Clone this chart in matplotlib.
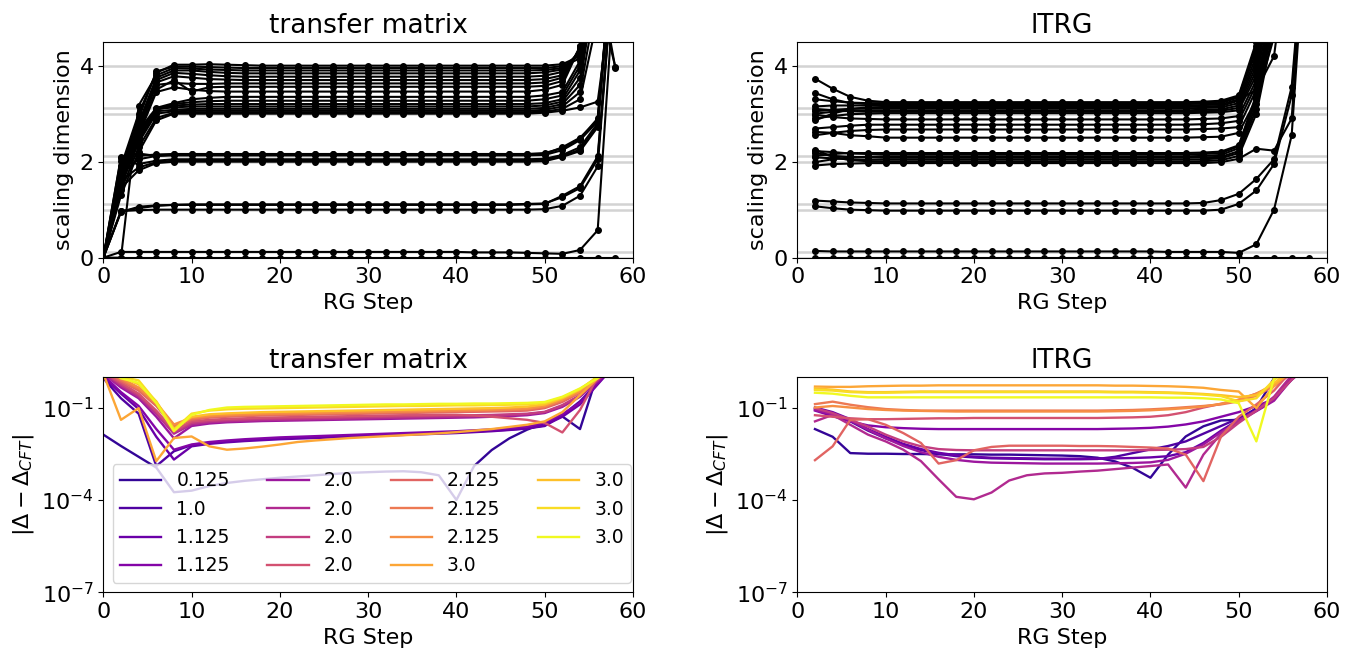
import numpy as np
import matplotlib
matplotlib.use('Agg')
import matplotlib.pyplot as plt
from matplotlib.ticker import NullLocator

plt.rcParams['font.family'] = ['DejaVu Sans']
plt.rcParams['font.size'] = 16

# RG steps
tm_steps = np.arange(0, 60, 2)     # 0 .. 58
ltrg_steps = np.arange(2, 60, 2)   # 2 .. 58

cft_levels = [0.0, 0.125, 1.0, 1.125, 2.0, 2.125, 3.0, 3.125, 4.0]
err_labels = ['0.125', '1.0', '1.125', '1.125', '2.0', '2.0', '2.0', '2.0',
              '2.125', '2.125', '2.125', '3.0', '3.0', '3.0', '3.0']

# ---------------- transfer matrix: scaling dimensions ----------------
tm_dims_low = [
    [0,0,0,0,0, 0,0,0,0,0,0,0,0,0,0,0,0,0,0,0,0,0,0,0,0, 0,0,0,0,0],
    [0,.12,.12,.12,.12, .12,.12,.12,.12,.12,.12,.12,.12,.12,.12,.12,.12,.12,.12,.12,.12,.11,.11,.11,.10, .09,.08,.16,.57,6.0],
    [0,.97,.99,1.0,1.0, 1.0,1.0,1.0,1.0,1.0,1.0,1.0,1.0,1.0,1.0,1.0,1.0,1.0,1.0,1.0,1.0,1.0,1.0,1.0,1.0, 1.01,1.08,1.29,1.90,6.5],
    [0,.95,1.06,1.09,1.10, 1.10,1.10,1.10,1.10,1.10,1.10,1.10,1.10,1.10,1.10,1.10,1.10,1.10,1.10,1.10,1.10,1.10,1.10,1.10,1.11, 1.12,1.29,1.49,2.11,6.5],
    [0,.97,1.03,1.08,1.10, 1.11,1.11,1.11,1.11,1.11,1.11,1.11,1.11,1.11,1.11,1.11,1.11,1.11,1.11,1.11,1.11,1.11,1.11,1.11,1.12, 1.13,1.26,1.45,2.05,6.5],
]
tm_dims_two = [
    [0,1.45,1.82,1.97,2.00, 2.00,2.00,2.00,2.00,2.00,2.00,2.00,2.00,2.00,2.00,2.00,2.00,2.00,2.00,2.00,2.00,2.00,2.00,2.00,2.00, 2.01,2.10,2.22,2.72,7.0],
    [0,1.60,1.88,1.99,2.02, 2.03,2.03,2.03,2.03,2.03,2.03,2.03,2.03,2.03,2.03,2.03,2.03,2.03,2.03,2.03,2.03,2.03,2.03,2.03,2.03, 2.04,2.12,2.25,2.75,7.0],
    [0,2.01,1.95,2.02,2.05, 2.05,2.05,2.05,2.05,2.05,2.05,2.05,2.05,2.05,2.05,2.05,2.05,2.05,2.05,2.05,2.05,2.05,2.05,2.05,2.05, 2.06,2.14,2.30,2.80,7.0],
    [0,2.10,2.17,2.12,2.13, 2.13,2.13,2.13,2.13,2.13,2.13,2.13,2.13,2.13,2.13,2.13,2.13,2.13,2.13,2.13,2.13,2.13,2.13,2.13,2.13, 2.14,2.24,2.45,2.84,7.0],
    [0,1.75,2.05,2.12,2.15, 2.15,2.15,2.15,2.15,2.15,2.15,2.15,2.15,2.15,2.15,2.15,2.15,2.15,2.15,2.15,2.15,2.15,2.15,2.15,2.15, 2.16,2.30,2.50,2.86,7.0],
    [0,2.08,2.12,2.15,2.16, 2.16,2.16,2.16,2.16,2.16,2.16,2.16,2.16,2.16,2.16,2.16,2.16,2.16,2.16,2.16,2.16,2.16,2.16,2.16,2.16, 2.18,2.28,2.48,2.90,7.0],
]
tm_dims_three = [
    [0,1.30,2.20,2.86,3.00, 3.00,3.00,3.00,3.00,3.00,3.00,3.00,3.00,3.00,3.00,3.00,3.00,3.00,3.00,3.00,3.00,3.00,3.00,3.00,3.00, 3.02,3.06,3.13,3.25,6.0],
    [0,1.40,2.30,2.91,3.02, 3.03,3.03,3.03,3.03,3.03,3.03,3.03,3.03,3.03,3.03,3.03,3.03,3.03,3.03,3.03,3.03,3.03,3.03,3.03,3.03, 3.04,3.10,3.30,5.0,7.0],
    [0,1.50,2.40,3.00,3.05, 3.06,3.06,3.06,3.06,3.06,3.06,3.06,3.06,3.06,3.06,3.06,3.06,3.06,3.06,3.06,3.06,3.06,3.06,3.06,3.06, 3.08,3.15,3.45,5.5,3.97],
    [0,1.55,2.45,3.05,3.08, 3.10,3.10,3.10,3.10,3.10,3.10,3.10,3.10,3.10,3.10,3.10,3.10,3.10,3.10,3.10,3.10,3.10,3.10,3.10,3.10, 3.12,3.20,3.60,6.0,7.0],
    [0,1.60,2.50,3.10,3.13, 3.15,3.15,3.15,3.15,3.15,3.15,3.15,3.15,3.15,3.15,3.15,3.15,3.15,3.15,3.15,3.15,3.15,3.15,3.15,3.15, 3.17,3.25,3.75,6.0,3.95],
    [0,1.65,2.55,3.08,3.17, 3.19,3.20,3.20,3.20,3.20,3.20,3.20,3.20,3.20,3.20,3.20,3.20,3.20,3.20,3.20,3.20,3.20,3.20,3.20,3.20, 3.22,3.30,3.90,6.0,7.0],
    [0,1.70,2.60,3.10,3.20, 3.24,3.26,3.27,3.27,3.27,3.27,3.27,3.27,3.27,3.27,3.27,3.27,3.27,3.27,3.27,3.27,3.27,3.27,3.27,3.27, 3.30,3.38,4.00,6.5,7.0],
    [0,1.75,2.65,3.12,3.22, 3.30,3.33,3.35,3.35,3.35,3.35,3.35,3.35,3.35,3.35,3.35,3.35,3.35,3.35,3.35,3.35,3.35,3.35,3.35,3.35, 3.38,3.45,4.10,6.5,7.0],
]
tm_dims_upper = [
    [0,1.90,3.00,3.85,4.02, 4.02,4.03,4.02,4.01,4.00,4.00,4.00,4.00,4.00,4.00,4.00,4.00,4.00,4.00,4.00,4.00,4.00,4.00,4.00,4.00, 4.00,4.03,4.20,6.0,7.0],
    [0,1.85,2.90,3.88,3.98, 3.98,3.97,3.96,3.95,3.95,3.95,3.95,3.95,3.95,3.95,3.95,3.95,3.95,3.95,3.95,3.95,3.95,3.95,3.95,3.95, 3.95,3.99,4.15,6.0,7.0],
    [0,0.00,3.17,3.80,3.95, 3.94,3.92,3.91,3.90,3.90,3.90,3.90,3.90,3.90,3.90,3.90,3.90,3.90,3.90,3.90,3.90,3.90,3.90,3.90,3.90, 3.91,3.95,4.25,6.0,7.0],
    [0,1.80,2.80,3.75,3.90, 3.90,3.87,3.85,3.84,3.84,3.84,3.84,3.84,3.84,3.84,3.84,3.84,3.84,3.84,3.84,3.84,3.84,3.84,3.84,3.84, 3.86,3.92,4.30,6.5,7.0],
    [0,1.75,2.75,3.70,3.85, 3.83,3.80,3.78,3.77,3.77,3.77,3.77,3.77,3.77,3.77,3.77,3.77,3.77,3.77,3.77,3.77,3.77,3.77,3.77,3.77, 3.79,3.87,4.30,6.5,7.0],
    [0,1.70,2.70,3.65,3.78, 3.75,3.72,3.71,3.70,3.70,3.70,3.70,3.70,3.70,3.70,3.70,3.70,3.70,3.70,3.70,3.70,3.70,3.70,3.70,3.70, 3.72,3.80,4.35,6.5,7.0],
    [0,1.70,2.65,3.60,3.64, 3.62,3.62,3.63,3.63,3.63,3.63,3.63,3.63,3.63,3.63,3.63,3.63,3.63,3.63,3.63,3.63,3.63,3.63,3.63,3.63, 3.65,3.75,4.35,6.5,7.0],
    [0,1.65,2.60,3.50,3.70, 3.46,3.55,3.56,3.56,3.56,3.56,3.56,3.56,3.56,3.56,3.56,3.56,3.56,3.56,3.56,3.56,3.56,3.56,3.56,3.56, 3.58,3.68,4.40,7.0,7.0],
    [0,1.60,2.55,3.45,3.55, 3.50,3.47,3.46,3.46,3.46,3.46,3.46,3.46,3.46,3.46,3.46,3.46,3.46,3.46,3.46,3.46,3.46,3.46,3.46,3.46, 3.50,3.60,4.40,7.0,7.0],
]

# ---------------- lTRG: scaling dimensions ----------------
ltrg_dims_low = [
    [0,0,0,0, 0,0,0,0,0,0,0,0,0,0,0,0,0,0,0,0,0,0,0, 0,0,0,0,0,0],
    [.14,.13,.13,.13, .13,.13,.13,.13,.13,.13,.13,.13,.13,.13,.13,.13,.13,.13,.13,.13,.12,.12,.12, .12,.10,.28,1.00,2.55,8.0],
    [1.07,1.03,1.00,.99, .98,.98,.98,.98,.98,.98,.98,.98,.98,.98,.98,.98,.98,.98,.98,.98,.98,.98,.98, 1.00,1.12,1.40,1.95,3.38,8.0],
    [1.19,1.17,1.15,1.14, 1.13,1.13,1.13,1.13,1.13,1.13,1.13,1.13,1.13,1.13,1.13,1.13,1.13,1.13,1.13,1.13,1.13,1.13,1.14, 1.20,1.33,1.64,2.05,3.56,8.0],
]
ltrg_dims_two = [
    [1.92,1.95,1.96,1.97, 1.97,1.97,1.97,1.97,1.97,1.97,1.97,1.97,1.97,1.97,1.97,1.97,1.97,1.97,1.97,1.97,1.97,1.97,1.97, 1.99,2.06,2.27,2.23,2.90,8.0],
    [2.25,2.10,2.03,2.01, 2.00,2.00,2.00,2.00,2.00,2.00,2.00,2.00,2.00,2.00,2.00,2.00,2.00,2.00,2.00,2.00,2.00,2.00,2.01, 2.03,2.12,3.00,4.80,7.0,8.0],
    [2.09,2.07,2.05,2.04, 2.04,2.04,2.04,2.04,2.04,2.04,2.04,2.04,2.04,2.04,2.04,2.04,2.04,2.04,2.04,2.04,2.04,2.04,2.05, 2.07,2.18,3.10,5.00,7.0,8.0],
    [2.18,2.12,2.10,2.09, 2.08,2.08,2.08,2.08,2.08,2.08,2.08,2.08,2.08,2.08,2.08,2.08,2.08,2.08,2.08,2.08,2.08,2.08,2.09, 2.10,2.22,3.20,5.20,7.0,8.0],
    [1.99,2.05,2.09,2.10, 2.11,2.11,2.11,2.11,2.11,2.11,2.11,2.11,2.11,2.11,2.11,2.11,2.11,2.11,2.11,2.11,2.11,2.11,2.12, 2.14,2.28,3.30,5.40,7.0,8.0],
    [2.22,2.20,2.17,2.16, 2.15,2.15,2.15,2.15,2.15,2.15,2.15,2.15,2.15,2.15,2.15,2.15,2.15,2.15,2.15,2.15,2.15,2.15,2.16, 2.18,2.32,3.35,5.50,7.0,8.0],
    [2.12,2.16,2.18,2.18, 2.18,2.18,2.18,2.18,2.18,2.18,2.18,2.18,2.18,2.18,2.18,2.18,2.18,2.18,2.18,2.18,2.18,2.18,2.19, 2.21,2.34,3.40,5.60,7.0,8.0],
]
ltrg_dims_three = [
    [2.62,2.60,2.55,2.53, 2.50,2.50,2.50,2.50,2.50,2.50,2.50,2.50,2.50,2.50,2.50,2.50,2.50,2.50,2.50,2.50,2.50,2.50,2.51, 2.52,2.60,3.30,4.60,7.0,8.0],
    [2.55,2.60,2.64,2.66, 2.67,2.67,2.67,2.67,2.67,2.67,2.67,2.67,2.67,2.67,2.67,2.67,2.67,2.67,2.67,2.67,2.67,2.67,2.68, 2.69,2.72,3.50,4.80,7.0,8.0],
    [2.69,2.72,2.75,2.77, 2.77,2.77,2.77,2.77,2.77,2.77,2.77,2.77,2.77,2.77,2.77,2.77,2.77,2.77,2.77,2.77,2.77,2.77,2.78, 2.80,2.85,3.60,5.00,7.0,8.0],
    [2.98,2.93,2.90,2.89, 2.88,2.88,2.88,2.88,2.88,2.88,2.88,2.88,2.88,2.88,2.88,2.88,2.88,2.88,2.88,2.88,2.88,2.88,2.89, 2.90,2.95,3.70,5.20,7.0,8.0],
    [2.90,2.95,2.99,3.00, 3.01,3.01,3.01,3.01,3.01,3.01,3.01,3.01,3.01,3.01,3.01,3.01,3.01,3.01,3.01,3.01,3.01,3.01,3.02, 3.03,3.07,3.80,5.40,7.0,8.0],
    [3.10,3.07,3.05,3.04, 3.04,3.04,3.04,3.04,3.04,3.04,3.04,3.04,3.04,3.04,3.04,3.04,3.04,3.04,3.04,3.04,3.04,3.04,3.05, 3.06,3.12,3.90,5.60,7.0,8.0],
    [3.00,3.04,3.06,3.07, 3.07,3.07,3.07,3.07,3.07,3.07,3.07,3.07,3.07,3.07,3.07,3.07,3.07,3.07,3.07,3.07,3.07,3.07,3.08, 3.09,3.17,4.00,5.80,7.0,8.0],
    [3.05,3.08,3.10,3.11, 3.11,3.11,3.11,3.11,3.11,3.11,3.11,3.11,3.11,3.11,3.11,3.11,3.11,3.11,3.11,3.11,3.11,3.11,3.12, 3.13,3.22,4.10,6.00,7.0,8.0],
    [2.86,3.00,3.10,3.13, 3.14,3.14,3.14,3.14,3.14,3.14,3.14,3.14,3.14,3.14,3.14,3.14,3.14,3.14,3.14,3.14,3.14,3.14,3.15, 3.16,3.27,4.20,6.00,7.0,8.0],
    [3.15,3.17,3.17,3.17, 3.17,3.17,3.17,3.17,3.17,3.17,3.17,3.17,3.17,3.17,3.17,3.17,3.17,3.17,3.17,3.17,3.17,3.17,3.18, 3.19,3.30,3.49,4.20,7.0,8.0],
    [3.43,3.30,3.22,3.20, 3.20,3.20,3.20,3.20,3.20,3.20,3.20,3.20,3.20,3.20,3.20,3.20,3.20,3.20,3.20,3.20,3.20,3.20,3.21, 3.22,3.34,4.30,6.50,7.0,8.0],
    [3.30,3.26,3.23,3.22, 3.22,3.22,3.22,3.22,3.22,3.22,3.22,3.22,3.22,3.22,3.22,3.22,3.22,3.22,3.22,3.22,3.22,3.22,3.23, 3.25,3.36,4.40,6.50,7.0,8.0],
    [3.73,3.52,3.35,3.27, 3.24,3.24,3.24,3.24,3.24,3.24,3.24,3.24,3.24,3.24,3.24,3.24,3.24,3.24,3.24,3.24,3.24,3.24,3.25, 3.27,3.38,4.50,6.50,7.0,8.0],
]

# ---------------- log10 |Delta - Delta_CFT|, transfer matrix ----------------
tm_err_log10 = [
    [-1.88,-2.25,-2.60,-2.95,-3.75,-3.70,-3.55,-3.45,-3.38,-3.33,-3.28,-3.24,-3.20,-3.16,-3.12,-3.10,-3.08,-3.07,-3.10,-3.20,-4.00,-2.90,-2.38,-2.00,-1.72,-1.50,-1.29,-1.70,0.10,0.50],
    [-0.05,-0.70,-1.20,-2.90,-2.42,-2.22,-2.15,-2.10,-2.06,-2.03,-2.00,-1.98,-1.96,-1.94,-1.92,-1.90,-1.88,-1.86,-1.84,-1.82,-1.80,-1.78,-1.75,-1.72,-1.68,-1.60,-1.25,-0.80,-0.20,0.40],
    [0.00,-0.55,-1.05,-1.95,-2.69,-2.26,-2.18,-2.13,-2.09,-2.06,-2.03,-2.01,-1.99,-1.97,-1.95,-1.93,-1.91,-1.89,-1.87,-1.85,-1.83,-1.80,-1.77,-1.73,-1.68,-1.58,-1.30,-0.90,-0.25,0.40],
    [0.05,-0.50,-0.95,-1.70,-2.37,-2.20,-2.12,-2.07,-2.03,-2.00,-1.97,-1.95,-1.93,-1.91,-1.89,-1.87,-1.85,-1.83,-1.81,-1.79,-1.77,-1.74,-1.71,-1.67,-1.62,-1.50,-1.22,-0.85,-0.22,0.40],
    [0.10,-0.35,-0.70,-1.30,-2.00,-1.60,-1.52,-1.48,-1.46,-1.44,-1.43,-1.42,-1.41,-1.40,-1.39,-1.38,-1.37,-1.36,-1.35,-1.34,-1.33,-1.32,-1.30,-1.28,-1.25,-1.18,-0.98,-0.65,-0.15,0.40],
    [0.10,-0.30,-0.65,-1.20,-1.85,-1.55,-1.48,-1.45,-1.43,-1.41,-1.40,-1.39,-1.38,-1.37,-1.36,-1.35,-1.34,-1.33,-1.32,-1.31,-1.30,-1.29,-1.27,-1.25,-1.22,-1.15,-0.95,-0.62,-0.12,0.40],
    [0.15,-0.25,-0.60,-1.15,-1.80,-1.50,-1.44,-1.41,-1.39,-1.37,-1.36,-1.35,-1.34,-1.33,-1.32,-1.31,-1.30,-1.29,-1.28,-1.27,-1.26,-1.25,-1.24,-1.22,-1.20,-1.14,-0.92,-0.60,-0.10,0.40],
    [0.15,-0.20,-0.55,-1.10,-1.75,-1.45,-1.40,-1.37,-1.35,-1.33,-1.32,-1.31,-1.30,-1.29,-1.28,-1.27,-1.26,-1.25,-1.25,-1.24,-1.24,-1.26,-1.30,-1.35,-1.40,-1.50,-1.81,-1.08,0.00,0.40],
    [0.20,-0.15,-0.45,-0.95,-1.65,-1.40,-1.33,-1.30,-1.28,-1.26,-1.25,-1.24,-1.23,-1.22,-1.21,-1.20,-1.19,-1.18,-1.17,-1.16,-1.15,-1.14,-1.13,-1.12,-1.10,-1.02,-0.82,-0.52,-0.05,0.40],
    [0.20,-0.10,-0.40,-0.90,-1.60,-1.36,-1.30,-1.27,-1.25,-1.23,-1.22,-1.21,-1.20,-1.19,-1.18,-1.17,-1.16,-1.15,-1.14,-1.13,-1.12,-1.11,-1.10,-1.08,-1.06,-0.98,-0.78,-0.50,-0.05,0.40],
    [0.20,-0.05,-0.35,-0.85,-1.55,-1.33,-1.27,-1.24,-1.22,-1.20,-1.19,-1.18,-1.17,-1.16,-1.15,-1.14,-1.13,-1.12,-1.11,-1.10,-1.09,-1.08,-1.07,-1.05,-1.03,-0.95,-0.75,-0.48,-0.02,0.40],
    [0.10,-1.40,-1.02,-2.74,-1.99,-1.94,-2.26,-2.37,-2.33,-2.27,-2.20,-2.12,-2.07,-2.03,-1.99,-1.96,-1.93,-1.90,-1.87,-1.84,-1.80,-1.75,-1.70,-1.63,-1.56,-1.45,-1.15,-0.60,-0.05,0.40],
    [0.25,0.00,-0.25,-0.80,-1.70,-1.30,-1.22,-1.19,-1.17,-1.15,-1.14,-1.13,-1.12,-1.11,-1.10,-1.09,-1.08,-1.07,-1.06,-1.05,-1.04,-1.03,-1.02,-1.00,-0.97,-0.90,-0.70,-0.42,0.00,0.40],
    [0.30,0.00,-0.12,-0.82,-1.72,-1.20,-1.10,-1.06,-1.04,-1.03,-1.02,-1.01,-1.00,-0.99,-0.98,-0.97,-0.96,-0.95,-0.95,-0.94,-0.93,-0.93,-0.92,-0.91,-0.90,-0.85,-0.67,-0.40,0.00,0.40],
    [0.30,-0.05,-0.20,-0.86,-1.77,-1.24,-1.08,-1.00,-0.98,-0.97,-0.96,-0.95,-0.94,-0.93,-0.92,-0.91,-0.90,-0.90,-0.89,-0.88,-0.88,-0.87,-0.87,-0.86,-0.85,-0.82,-0.65,-0.38,-0.05,0.40],
]

# ---------------- log10 |Delta - Delta_CFT|, lTRG ----------------
ltrg_err_log10 = [
    [-1.70,-1.95,-2.48,-2.50,-2.50,-2.51,-2.51,-2.52,-2.52,-2.52,-2.53,-2.53,-2.54,-2.55,-2.56,-2.58,-2.63,-2.75,-2.96,-3.28,-2.53,-1.94,-1.61,-1.42,-1.40,-1.02,-0.05,0.40,0.60],
    [-1.05,-1.20,-1.45,-1.75,-2.00,-2.20,-2.38,-2.50,-2.58,-2.62,-2.65,-2.66,-2.67,-2.68,-2.68,-2.68,-2.67,-2.60,-2.48,-2.36,-2.25,-2.10,-1.85,-1.60,-1.35,-1.05,-0.70,-0.10,0.40],
    [-1.00,-1.15,-1.38,-1.70,-1.95,-2.18,-2.35,-2.47,-2.55,-2.60,-2.63,-2.64,-2.65,-2.66,-2.66,-2.66,-2.66,-2.65,-2.64,-2.62,-2.58,-2.45,-2.15,-1.75,-1.40,-1.10,-0.75,-0.05,0.40],
    [-1.10,-1.28,-1.45,-1.58,-1.64,-1.67,-1.69,-1.70,-1.70,-1.70,-1.70,-1.70,-1.70,-1.70,-1.70,-1.70,-1.70,-1.69,-1.68,-1.66,-1.62,-1.55,-1.45,-1.30,-1.15,-0.95,-0.73,-0.02,0.40],
    [-1.08,-1.22,-1.42,-1.72,-2.00,-2.25,-2.45,-2.60,-2.70,-2.76,-2.79,-2.80,-2.81,-2.82,-2.82,-2.82,-2.82,-2.81,-2.80,-2.78,-2.70,-2.50,-2.20,-1.80,-1.45,-1.12,-0.78,-0.08,0.40],
    [-1.45,-1.24,-1.56,-1.88,-2.10,-2.37,-2.74,-3.33,-3.90,-3.98,-3.76,-3.37,-3.20,-3.14,-3.12,-3.08,-3.05,-3.00,-2.95,-2.90,-2.85,-3.60,-2.53,-1.85,-1.42,-1.10,-0.65,0.05,0.40],
    [-1.02,-1.18,-1.40,-1.62,-1.88,-2.10,-2.26,-2.35,-2.38,-2.39,-2.39,-2.39,-2.39,-2.39,-2.39,-2.39,-2.39,-2.39,-2.39,-2.38,-2.37,-2.35,-2.28,-1.95,-1.50,-1.10,-0.70,-0.10,0.40],
    [-1.25,-1.30,-1.35,-1.38,-1.38,-1.37,-1.36,-1.35,-1.35,-1.34,-1.34,-1.34,-1.34,-1.34,-1.34,-1.34,-1.34,-1.33,-1.32,-1.30,-1.25,-1.15,-1.00,-0.88,-0.75,-0.55,-0.30,0.10,0.40],
    [-2.71,-2.26,-1.40,-1.38,-1.56,-1.83,-2.15,-2.82,-2.71,-2.39,-2.28,-2.24,-2.24,-2.24,-2.24,-2.25,-2.25,-2.26,-2.28,-2.30,-2.33,-2.53,-3.39,-1.94,-1.30,-0.90,-0.45,0.20,0.50],
    [-0.89,-0.81,-0.91,-0.99,-1.05,-1.08,-1.10,-1.10,-1.10,-1.10,-1.10,-1.10,-1.10,-1.10,-1.10,-1.10,-1.10,-1.09,-1.08,-1.06,-1.03,-0.99,-0.95,-0.90,-0.80,-0.62,-0.30,0.20,0.50],
    [-1.00,-0.95,-1.00,-1.05,-1.08,-1.10,-1.11,-1.12,-1.13,-1.13,-1.13,-1.13,-1.13,-1.13,-1.13,-1.13,-1.13,-1.12,-1.11,-1.09,-1.06,-1.02,-0.97,-0.88,-0.75,-0.55,-0.25,0.30,0.50],
    [-0.32,-0.33,-0.33,-0.31,-0.30,-0.29,-0.29,-0.28,-0.28,-0.28,-0.28,-0.28,-0.28,-0.28,-0.28,-0.28,-0.28,-0.29,-0.29,-0.30,-0.31,-0.33,-0.36,-0.43,-0.48,-1.02,-0.30,0.20,0.50],
    [-0.38,-0.42,-0.48,-0.50,-0.50,-0.49,-0.48,-0.48,-0.48,-0.48,-0.48,-0.48,-0.48,-0.48,-0.48,-0.48,-0.48,-0.49,-0.49,-0.50,-0.51,-0.53,-0.56,-0.60,-0.66,-0.60,-0.20,0.20,0.50],
    [-0.43,-0.45,-0.50,-0.52,-0.52,-0.51,-0.50,-0.50,-0.50,-0.50,-0.50,-0.50,-0.50,-0.50,-0.50,-0.50,-0.50,-0.51,-0.51,-0.52,-0.53,-0.55,-0.58,-0.63,-0.80,-0.70,-0.10,0.30,0.50],
    [-0.52,-0.55,-0.62,-0.67,-0.67,-0.67,-0.67,-0.67,-0.67,-0.67,-0.67,-0.67,-0.67,-0.67,-0.67,-0.67,-0.67,-0.67,-0.67,-0.67,-0.68,-0.68,-0.70,-0.74,-0.86,-2.10,-0.05,0.30,0.50],
]

colors = plt.cm.plasma(np.linspace(1 / 15, 1.0, 15))

fig = plt.figure(figsize=(13.56, 6.54), dpi=100)
ax_tl = fig.add_axes([0.0762, 0.606, 0.3906, 0.3303])
ax_tr = fig.add_axes([0.5880, 0.606, 0.3906, 0.3303])
ax_bl = fig.add_axes([0.0762, 0.0943, 0.3906, 0.3297])
ax_br = fig.add_axes([0.5880, 0.0943, 0.3906, 0.3297])


def dims_panel(ax, steps, groups, title):
    for lev in cft_levels:
        ax.axhline(lev, color='lightgray', lw=1.8, zorder=0)
    for group in groups:
        for vals in group:
            ax.plot(steps, vals, 'o-', color='black', ms=4, lw=1.5)
    ax.set_xlim(0, 60)
    ax.set_ylim(0, 4.5)
    ax.set_yticks([0, 2, 4])
    ax.set_xticks([0, 10, 20, 30, 40, 50, 60])
    ax.set_xlabel('RG Step')
    ax.set_ylabel('scaling dimension')
    ax.set_title(title, fontsize=19)


def err_panel(ax, steps, logs, title, legend=False):
    for i, vals in enumerate(logs):
        ax.semilogy(steps, 10 ** np.array(vals), color=colors[i], lw=1.7,
                    label=err_labels[i])
    ax.set_xlim(0, 60)
    ax.set_ylim(1e-7, 1)
    ax.set_yticks([1e-7, 1e-4, 1e-1])
    ax.yaxis.set_minor_locator(NullLocator())
    ax.set_xticks([0, 10, 20, 30, 40, 50, 60])
    ax.set_xlabel('RG Step')
    ax.set_ylabel(r'$|\Delta - \Delta_{CFT}|$')
    ax.set_title(title, fontsize=19)
    if legend:
        ax.legend(ncol=4, loc='lower left', fontsize=13.5, handlelength=2.2)


dims_panel(ax_tl, tm_steps, [tm_dims_low, tm_dims_two, tm_dims_three, tm_dims_upper], 'transfer matrix')
dims_panel(ax_tr, ltrg_steps, [ltrg_dims_low, ltrg_dims_two, ltrg_dims_three], 'lTRG')
err_panel(ax_bl, tm_steps, tm_err_log10, 'transfer matrix', legend=True)
err_panel(ax_br, ltrg_steps, ltrg_err_log10, 'lTRG')

fig.savefig('out.png', dpi=100, facecolor='white')
